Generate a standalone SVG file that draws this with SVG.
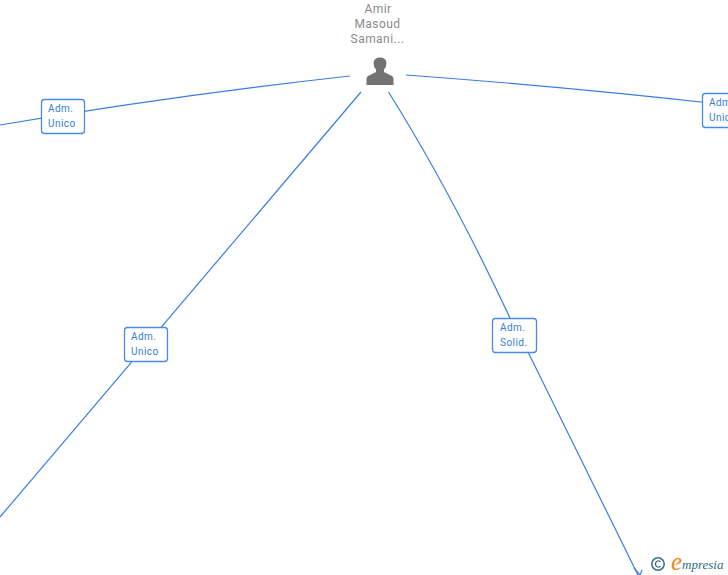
<svg xmlns="http://www.w3.org/2000/svg" width="728" height="575" viewBox="0 0 728 575">
<style>
.c{fill:none;stroke:#3a7de0;stroke-width:1.2}
.b{fill:#fff;stroke:#4a8ae6;stroke-width:1.3}
.l{font:10px Roboto,"Liberation Sans",sans-serif;fill:#3a7dd6;letter-spacing:.45px}
.n{font:12px Roboto,"Liberation Sans",sans-serif;fill:#8a8a8a;text-anchor:middle;letter-spacing:.45px}
</style>
<rect width="728" height="575" fill="#fff"/>
<g id="connectors">
<path class="c" d="M350 76Q170 96 0 125"/>
<path class="c" d="M406 75Q570 87 728 105"/>
<path class="c" d="M361 92L0 517"/>
<path class="c" d="M388.500 92Q450 190 510 318L528 352L638 575"/>
<path class="c" d="M634 568L640 575L642 570"/>
</g>
<g id="person">
<text class="n" x="378" y="13">Amir</text>
<text class="n" x="377.500" y="28">Masoud</text>
<text class="n" x="377.500" y="43">Samani...</text>
<path fill="#737373" d="M366.500 85V79Q366.500 76 370 75L376 72V69.500Q373.500 67 373.500 63Q374 57.500 380 57.500Q386 57.500 386.500 63Q386.500 67 384 69.500V72L390 75Q393.500 76 393.500 79V85Z"/>
</g>
<g id="n1">
<rect class="b" x="41.500" y="99.500" width="43" height="34" rx="3"/>
<text class="l" x="48" y="112">Adm.</text>
<text class="l" x="48" y="127">Unico</text>
</g>
<g id="n2">
<rect class="b" x="702.500" y="93.500" width="43" height="34" rx="3"/>
<text class="l" x="709" y="106">Adm.</text>
<text class="l" x="709" y="121">Unico</text>
</g>
<g id="n3">
<rect class="b" x="124.500" y="327.500" width="43" height="34" rx="3"/>
<text class="l" x="131" y="340">Adm.</text>
<text class="l" x="131" y="355">Unico</text>
</g>
<g id="n4">
<rect class="b" x="492.500" y="318.500" width="44" height="34" rx="3"/>
<text class="l" x="500" y="331">Adm.</text>
<text class="l" x="500" y="346">Solid.</text>
</g>
<g id="logo">
<circle cx="658" cy="564" r="6.200" fill="none" stroke="#3d6f82" stroke-width="1.500"/>
<path d="M660.500 561.800A3 3 0 1 0 660.500 566.200" fill="none" stroke="#3d6f82" stroke-width="1.200"/>
<text x="671" y="570" style="font:italic 25px 'Liberation Serif',serif;fill:#ee8a1c">e</text>
<text x="682" y="568.500" style="font:italic 13px 'Liberation Serif',serif;fill:#2a6b7c">mpresia</text>
</g>
</svg>
